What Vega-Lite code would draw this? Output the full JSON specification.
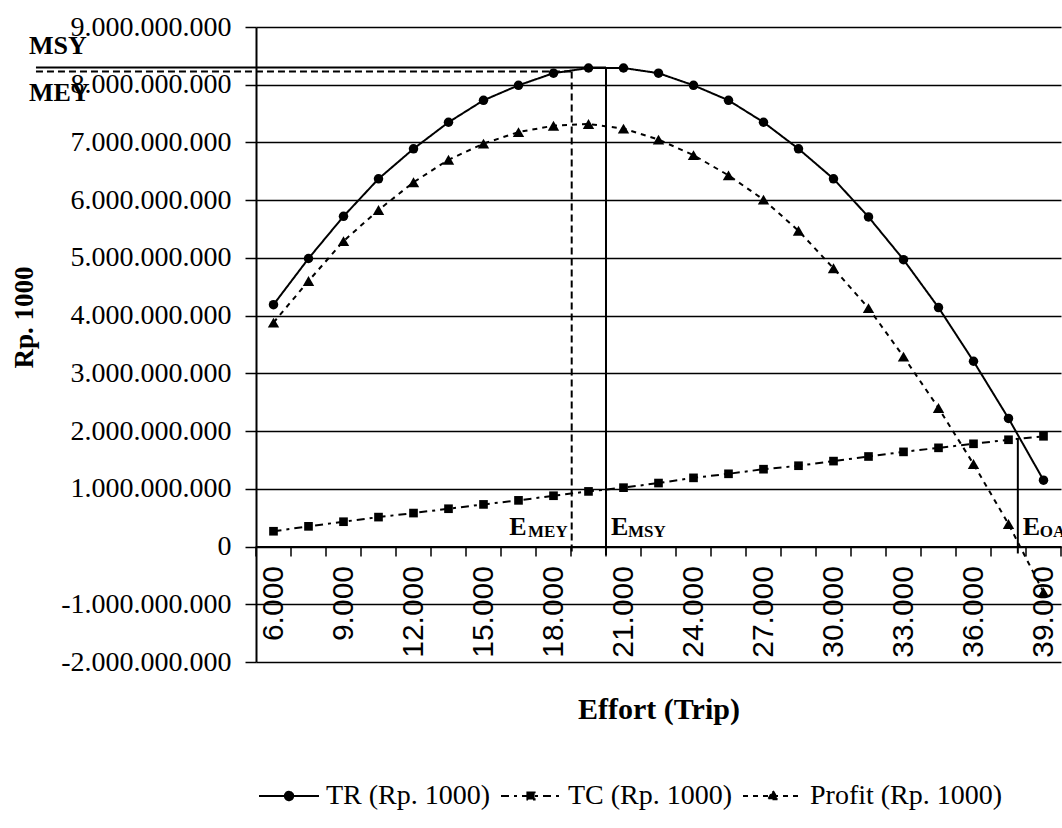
{
  "$schema": "https://vega.github.io/schema/vega-lite/v6.json",
  "width": 805,
  "height": 635,
  "autosize": {"type": "none"},
  "padding": {"left": 256, "top": 27, "right": 1, "bottom": 166},
  "background": "white",
  "config": {
    "locale": {"number": {"decimal": ",", "thousands": ".", "grouping": [3], "currency": ["Rp", ""], "minus": "-"}},
    "view": {"stroke": null}
  },
  "datasets": {
    "curves": [
      {"effort": 6000, "series": "TR (Rp. 1000)", "value": 4190000000},
      {"effort": 7500, "series": "TR (Rp. 1000)", "value": 4990000000},
      {"effort": 9000, "series": "TR (Rp. 1000)", "value": 5720000000},
      {"effort": 10500, "series": "TR (Rp. 1000)", "value": 6370000000},
      {"effort": 12000, "series": "TR (Rp. 1000)", "value": 6890000000},
      {"effort": 13500, "series": "TR (Rp. 1000)", "value": 7350000000},
      {"effort": 15000, "series": "TR (Rp. 1000)", "value": 7730000000},
      {"effort": 16500, "series": "TR (Rp. 1000)", "value": 7990000000},
      {"effort": 18000, "series": "TR (Rp. 1000)", "value": 8200000000},
      {"effort": 19500, "series": "TR (Rp. 1000)", "value": 8290000000},
      {"effort": 21000, "series": "TR (Rp. 1000)", "value": 8290000000},
      {"effort": 22500, "series": "TR (Rp. 1000)", "value": 8200000000},
      {"effort": 24000, "series": "TR (Rp. 1000)", "value": 7990000000},
      {"effort": 25500, "series": "TR (Rp. 1000)", "value": 7730000000},
      {"effort": 27000, "series": "TR (Rp. 1000)", "value": 7350000000},
      {"effort": 28500, "series": "TR (Rp. 1000)", "value": 6890000000},
      {"effort": 30000, "series": "TR (Rp. 1000)", "value": 6370000000},
      {"effort": 31500, "series": "TR (Rp. 1000)", "value": 5710000000},
      {"effort": 33000, "series": "TR (Rp. 1000)", "value": 4970000000},
      {"effort": 34500, "series": "TR (Rp. 1000)", "value": 4140000000},
      {"effort": 36000, "series": "TR (Rp. 1000)", "value": 3210000000},
      {"effort": 37500, "series": "TR (Rp. 1000)", "value": 2220000000},
      {"effort": 39000, "series": "TR (Rp. 1000)", "value": 1150000000},
      {"effort": 6000, "series": "TC (Rp. 1000)", "value": 265000000},
      {"effort": 7500, "series": "TC (Rp. 1000)", "value": 350000000},
      {"effort": 9000, "series": "TC (Rp. 1000)", "value": 430000000},
      {"effort": 10500, "series": "TC (Rp. 1000)", "value": 510000000},
      {"effort": 12000, "series": "TC (Rp. 1000)", "value": 580000000},
      {"effort": 13500, "series": "TC (Rp. 1000)", "value": 655000000},
      {"effort": 15000, "series": "TC (Rp. 1000)", "value": 730000000},
      {"effort": 16500, "series": "TC (Rp. 1000)", "value": 800000000},
      {"effort": 18000, "series": "TC (Rp. 1000)", "value": 880000000},
      {"effort": 19500, "series": "TC (Rp. 1000)", "value": 955000000},
      {"effort": 21000, "series": "TC (Rp. 1000)", "value": 1020000000},
      {"effort": 22500, "series": "TC (Rp. 1000)", "value": 1100000000},
      {"effort": 24000, "series": "TC (Rp. 1000)", "value": 1190000000},
      {"effort": 25500, "series": "TC (Rp. 1000)", "value": 1260000000},
      {"effort": 27000, "series": "TC (Rp. 1000)", "value": 1340000000},
      {"effort": 28500, "series": "TC (Rp. 1000)", "value": 1400000000},
      {"effort": 30000, "series": "TC (Rp. 1000)", "value": 1480000000},
      {"effort": 31500, "series": "TC (Rp. 1000)", "value": 1560000000},
      {"effort": 33000, "series": "TC (Rp. 1000)", "value": 1640000000},
      {"effort": 34500, "series": "TC (Rp. 1000)", "value": 1710000000},
      {"effort": 36000, "series": "TC (Rp. 1000)", "value": 1780000000},
      {"effort": 37500, "series": "TC (Rp. 1000)", "value": 1850000000},
      {"effort": 39000, "series": "TC (Rp. 1000)", "value": 1910000000},
      {"effort": 6000, "series": "Profit (Rp. 1000)", "value": 3880000000},
      {"effort": 7500, "series": "Profit (Rp. 1000)", "value": 4600000000},
      {"effort": 9000, "series": "Profit (Rp. 1000)", "value": 5290000000},
      {"effort": 10500, "series": "Profit (Rp. 1000)", "value": 5830000000},
      {"effort": 12000, "series": "Profit (Rp. 1000)", "value": 6310000000},
      {"effort": 13500, "series": "Profit (Rp. 1000)", "value": 6700000000},
      {"effort": 15000, "series": "Profit (Rp. 1000)", "value": 6980000000},
      {"effort": 16500, "series": "Profit (Rp. 1000)", "value": 7180000000},
      {"effort": 18000, "series": "Profit (Rp. 1000)", "value": 7290000000},
      {"effort": 19500, "series": "Profit (Rp. 1000)", "value": 7320000000},
      {"effort": 21000, "series": "Profit (Rp. 1000)", "value": 7240000000},
      {"effort": 22500, "series": "Profit (Rp. 1000)", "value": 7050000000},
      {"effort": 24000, "series": "Profit (Rp. 1000)", "value": 6780000000},
      {"effort": 25500, "series": "Profit (Rp. 1000)", "value": 6430000000},
      {"effort": 27000, "series": "Profit (Rp. 1000)", "value": 6010000000},
      {"effort": 28500, "series": "Profit (Rp. 1000)", "value": 5470000000},
      {"effort": 30000, "series": "Profit (Rp. 1000)", "value": 4820000000},
      {"effort": 31500, "series": "Profit (Rp. 1000)", "value": 4130000000},
      {"effort": 33000, "series": "Profit (Rp. 1000)", "value": 3290000000},
      {"effort": 34500, "series": "Profit (Rp. 1000)", "value": 2400000000},
      {"effort": 36000, "series": "Profit (Rp. 1000)", "value": 1430000000},
      {"effort": 37500, "series": "Profit (Rp. 1000)", "value": 390000000},
      {"effort": 39000, "series": "Profit (Rp. 1000)", "value": -790000000}
    ],
    "boundaries": [
      {"effort": 5250}, {"effort": 6750}, {"effort": 8250}, {"effort": 9750}, {"effort": 11250}, {"effort": 12750},
      {"effort": 14250}, {"effort": 15750}, {"effort": 17250}, {"effort": 18750}, {"effort": 20250}, {"effort": 21750},
      {"effort": 23250}, {"effort": 24750}, {"effort": 26250}, {"effort": 27750}, {"effort": 29250}, {"effort": 30750},
      {"effort": 32250}, {"effort": 33750}, {"effort": 35250}, {"effort": 36750}, {"effort": 38250}, {"effort": 39750}
    ]
  },
  "layer": [
    {
      "data": {"name": "curves"},
      "mark": {"type": "line", "color": "black", "strokeWidth": 2},
      "encoding": {
        "x": {
          "field": "effort", "type": "quantitative",
          "scale": {"domain": [5250, 39750], "nice": false, "zero": false},
          "axis": {
            "orient": "bottom",
            "offset": -115.5,
            "values": [6000, 9000, 12000, 15000, 18000, 21000, 24000, 27000, 30000, 33000, 36000, 39000],
            "format": ",.0f",
            "grid": false,
            "domain": true, "domainColor": "black", "domainWidth": 2,
            "ticks": true, "tickSize": 10, "tickOpacity": 0,
            "labelAngle": 270, "labelFont": "Liberation Sans", "labelFontSize": 30, "labelColor": "black",
            "labelPadding": 9, "labelOverlap": false, "labelFlush": false,
            "title": "Effort (Trip)", "titleFont": "Liberation Serif", "titleFontSize": 30, "titleFontWeight": "bold",
            "titleColor": "black", "titlePadding": 37
          }
        },
        "y": {
          "field": "value", "type": "quantitative",
          "scale": {"domain": [-2000000000, 9000000000], "nice": false, "zero": false},
          "axis": {
            "orient": "left",
            "values": [-2000000000, -1000000000, 0, 1000000000, 2000000000, 3000000000, 4000000000, 5000000000, 6000000000, 7000000000, 8000000000, 9000000000],
            "format": ",.0f",
            "grid": true, "gridColor": "black", "gridWidth": 1.5, "gridOpacity": 1,
            "domain": true, "domainColor": "black", "domainWidth": 2,
            "ticks": true, "tickSize": 11, "tickColor": "black", "tickWidth": 1.5,
            "labelFont": "Liberation Serif", "labelFontSize": 28, "labelColor": "black", "labelPadding": 14,
            "labelFlush": false, "labelOverlap": false,
            "title": "Rp. 1000", "titleFont": "Liberation Serif", "titleFontSize": 27, "titleFontWeight": "bold",
            "titleColor": "black", "titlePadding": 22, "titleY": 290
          }
        },
        "strokeDash": {
          "field": "series", "type": "nominal",
          "scale": {"domain": ["TR (Rp. 1000)", "TC (Rp. 1000)", "Profit (Rp. 1000)"], "range": [[1, 0], [8, 5, 3, 5], [5, 5]]},
          "legend": {
            "orient": "none", "legendX": 2, "legendY": 738, "direction": "horizontal",
            "title": null, "padding": 0,
            "symbolSize": 3600, "symbolStrokeWidth": 2, "symbolStrokeColor": "black", "symbolFillColor": "black",
            "labelFont": "Liberation Serif", "labelFontSize": 28, "labelColor": "black", "labelOffset": 6,
            "columnPadding": 6, "labelLimit": 400,
            "encode": {
              "symbols": {
                "update": {
                  "shape": {"signal": "datum.value === 'TR (Rp. 1000)' ? 'M-1,0H1M0.14,0A0.14,0.14,0,1,1,-0.14,0A0.14,0.14,0,1,1,0.14,0Z' : datum.value === 'TC (Rp. 1000)' ? 'M-1,0H1M-0.12,-0.12H0.12V0.12H-0.12Z' : 'M-1,0H1M0,-0.17L0.16,0.11H-0.16Z'"},
                  "fill": {"value": "black"},
                  "stroke": {"value": "black"},
                  "opacity": {"value": 1}
                }
              }
            }
          }
        }
      }
    },
    {
      "data": {"name": "curves"},
      "transform": [{"filter": "datum.series === 'TR (Rp. 1000)'"}],
      "mark": {"type": "point", "shape": "circle", "filled": true, "color": "black", "opacity": 1, "size": 90},
      "encoding": {
        "x": {"field": "effort", "type": "quantitative"},
        "y": {"field": "value", "type": "quantitative"}
      }
    },
    {
      "data": {"name": "curves"},
      "transform": [{"filter": "datum.series === 'TC (Rp. 1000)'"}],
      "mark": {"type": "point", "shape": "square", "filled": true, "color": "black", "opacity": 1, "size": 75},
      "encoding": {
        "x": {"field": "effort", "type": "quantitative"},
        "y": {"field": "value", "type": "quantitative"}
      }
    },
    {
      "data": {"name": "curves"},
      "transform": [{"filter": "datum.series === 'Profit (Rp. 1000)'"}],
      "mark": {"type": "point", "shape": "triangle-up", "filled": true, "color": "black", "opacity": 1, "size": 130},
      "encoding": {
        "x": {"field": "effort", "type": "quantitative"},
        "y": {"field": "value", "type": "quantitative"}
      }
    },
    {
      "data": {"name": "boundaries"},
      "mark": {"type": "rule", "color": "black", "strokeWidth": 1.5},
      "encoding": {
        "x": {"field": "effort", "type": "quantitative"},
        "y": {"datum": 0},
        "y2": {"datum": -173000000}
      }
    },
    {
      "data": {"values": [{"from": -4180, "to": 20250, "level": 8300000000}]},
      "mark": {"type": "rule", "color": "black", "strokeWidth": 2},
      "encoding": {
        "x": {"field": "from", "type": "quantitative"},
        "x2": {"field": "to"},
        "y": {"field": "level", "type": "quantitative"}
      }
    },
    {
      "data": {"values": [{"from": -4180, "to": 18780, "level": 8230000000}]},
      "mark": {"type": "rule", "color": "black", "strokeWidth": 2, "strokeDash": [7, 4]},
      "encoding": {
        "x": {"field": "from", "type": "quantitative"},
        "x2": {"field": "to"},
        "y": {"field": "level", "type": "quantitative"}
      }
    },
    {
      "data": {"values": [{"effort": 18780, "top": 8230000000, "bottom": -150000000}]},
      "mark": {"type": "rule", "color": "black", "strokeWidth": 2, "strokeDash": [7, 4]},
      "encoding": {
        "x": {"field": "effort", "type": "quantitative"},
        "y": {"field": "top", "type": "quantitative"},
        "y2": {"field": "bottom"}
      }
    },
    {
      "data": {"values": [{"effort": 20250, "top": 8300000000, "bottom": -150000000}, {"effort": 37900, "top": 1880000000, "bottom": -120000000}]},
      "mark": {"type": "rule", "color": "black", "strokeWidth": 2},
      "encoding": {
        "x": {"field": "effort", "type": "quantitative"},
        "y": {"field": "top", "type": "quantitative"},
        "y2": {"field": "bottom"}
      }
    },
    {
      "data": {"values": [{"effort": -4180, "level": 8300000000, "label": "MSY"}]},
      "mark": {"type": "text", "align": "left", "baseline": "alphabetic", "dx": -7, "dy": -13, "font": "Liberation Serif", "fontWeight": "bold", "fontSize": 26, "color": "black"},
      "encoding": {
        "x": {"field": "effort", "type": "quantitative"},
        "y": {"field": "level", "type": "quantitative"},
        "text": {"field": "label"}
      }
    },
    {
      "data": {"values": [{"effort": -4180, "level": 8230000000, "label": "MEY"}]},
      "mark": {"type": "text", "align": "left", "baseline": "alphabetic", "dx": -7, "dy": 30, "font": "Liberation Serif", "fontWeight": "bold", "fontSize": 26, "color": "black"},
      "encoding": {
        "x": {"field": "effort", "type": "quantitative"},
        "y": {"field": "level", "type": "quantitative"},
        "text": {"field": "label"}
      }
    },
    {
      "data": {"values": [{"effort": 18780, "level": 0, "label": "E"}]},
      "mark": {"type": "text", "align": "right", "baseline": "alphabetic", "dx": -45, "dy": -12, "font": "Liberation Serif", "fontWeight": "bold", "fontSize": 26, "color": "black"},
      "encoding": {
        "x": {"field": "effort", "type": "quantitative"},
        "y": {"field": "level", "type": "quantitative"},
        "text": {"field": "label"}
      }
    },
    {
      "data": {"values": [{"effort": 18780, "level": 0, "label": "MEY"}]},
      "mark": {"type": "text", "align": "right", "baseline": "alphabetic", "dx": -4, "dy": -10, "font": "Liberation Serif", "fontWeight": "bold", "fontSize": 17, "color": "black"},
      "encoding": {
        "x": {"field": "effort", "type": "quantitative"},
        "y": {"field": "level", "type": "quantitative"},
        "text": {"field": "label"}
      }
    },
    {
      "data": {"values": [{"effort": 20250, "level": 0, "label": "E"}, {"effort": 37900, "level": 0, "label": "E"}]},
      "mark": {"type": "text", "align": "left", "baseline": "alphabetic", "dx": 5, "dy": -12, "font": "Liberation Serif", "fontWeight": "bold", "fontSize": 26, "color": "black"},
      "encoding": {
        "x": {"field": "effort", "type": "quantitative"},
        "y": {"field": "level", "type": "quantitative"},
        "text": {"field": "label"}
      }
    },
    {
      "data": {"values": [{"effort": 20250, "level": 0, "label": "MSY"}, {"effort": 37900, "level": 0, "label": "OA"}]},
      "mark": {"type": "text", "align": "left", "baseline": "alphabetic", "dx": 22, "dy": -10, "font": "Liberation Serif", "fontWeight": "bold", "fontSize": 17, "color": "black"},
      "encoding": {
        "x": {"field": "effort", "type": "quantitative"},
        "y": {"field": "level", "type": "quantitative"},
        "text": {"field": "label"}
      }
    }
  ]
}
